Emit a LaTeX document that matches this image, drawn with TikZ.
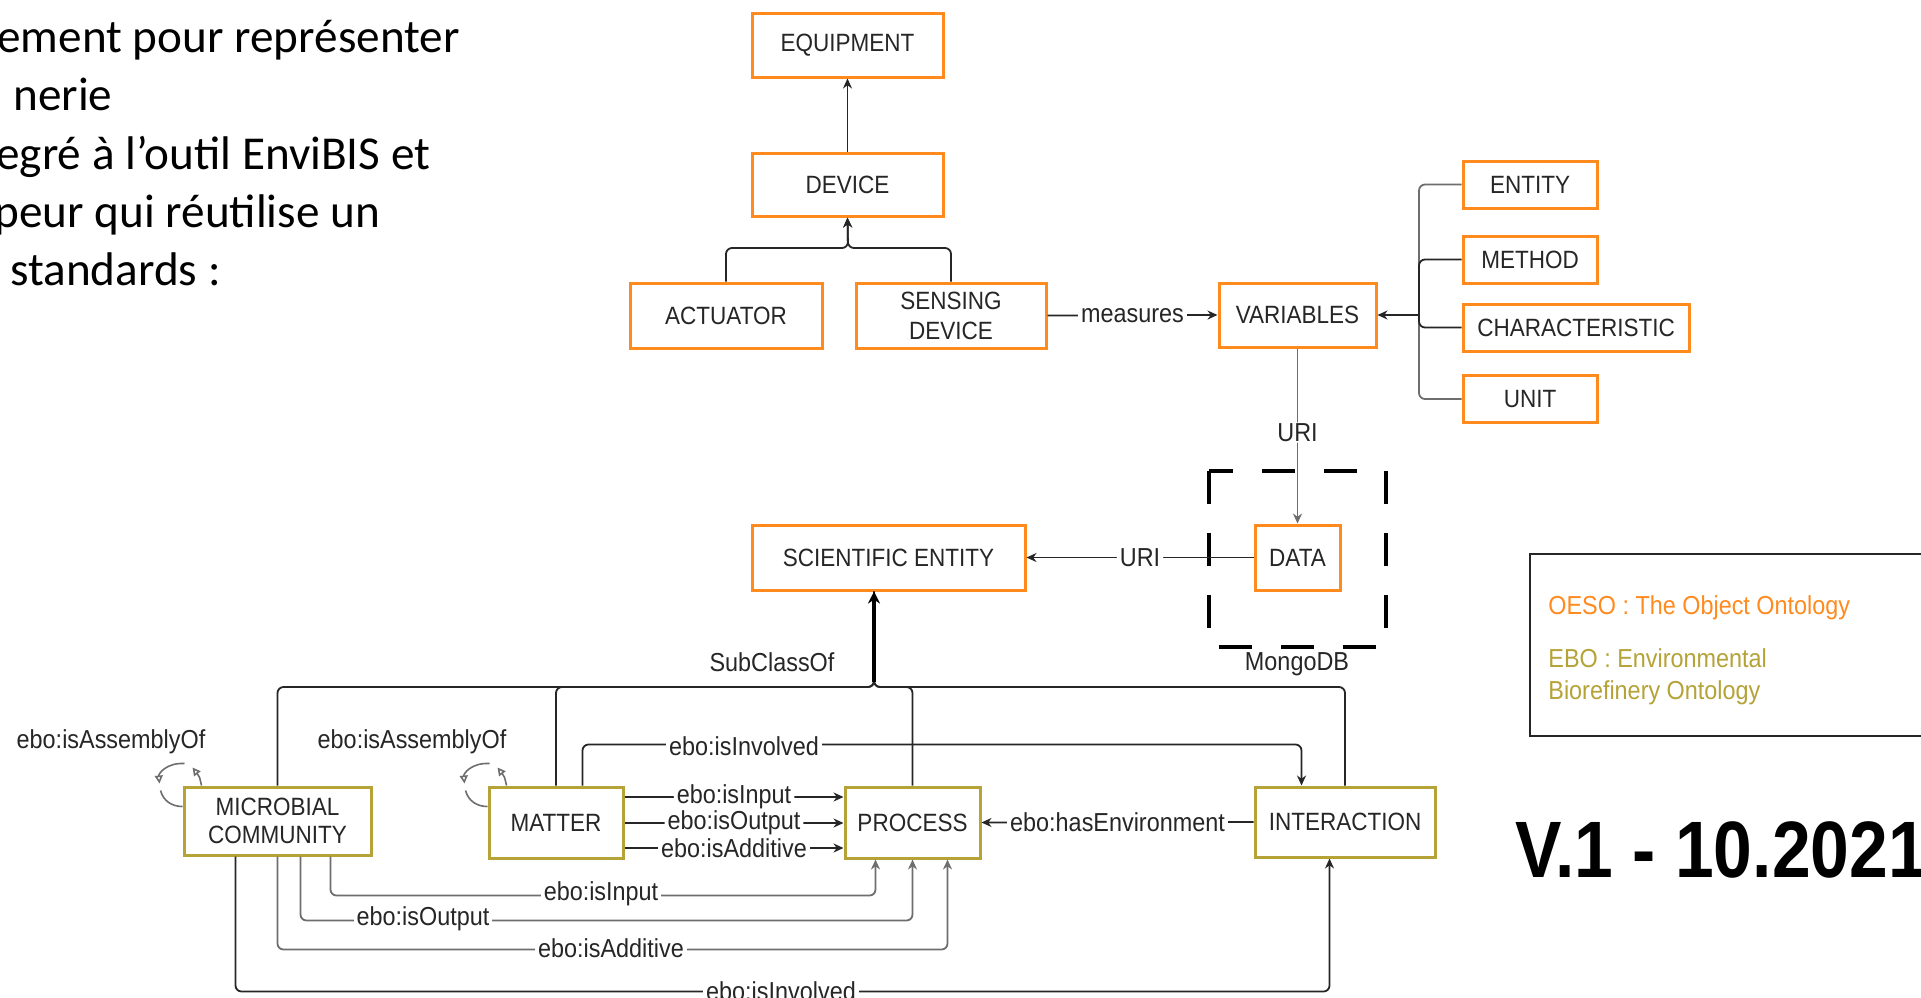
\documentclass[tikz,border=0pt]{standalone}
\usepackage{fontspec}
\setmainfont{Liberation Sans}
\newfontfamily\dgf{Liberation Sans}[FakeStretch=0.9]
\newfontfamily\txtf{Carlito}
\newfontfamily\verf{Liberation Sans}[FakeStretch=0.87]
\usetikzlibrary{arrows.meta,calc}
\definecolor{oeso}{HTML}{FF8A1E}
\definecolor{ebo}{HTML}{B5A337}
\definecolor{ink}{HTML}{262626}
\definecolor{lgray}{HTML}{6E6E6E}
\tikzset{
  obox/.style={draw=oeso, line width=1.5pt, fill=white, inner sep=0pt, align=center,
    font=\dgf\fontsize{12.5pt}{15pt}\selectfont, text=ink},
  ebox/.style={obox, draw=ebo},
  conn/.style={draw=ink, line width=0.9pt, rounded corners=3pt},
  arr/.style={conn, -{Stealth[length=5pt,width=4.5pt]}},
  garr/.style={arr, draw=lgray},
  lab/.style={fill=white, inner xsep=1.5pt, inner ysep=0.5pt,
    font=\dgf\fontsize{13pt}{15pt}\selectfont, text=ink},
  loopline/.style={draw=lgray, line width=0.8pt},
  looparr/.style={loopline, -{Triangle[open,length=4pt,width=4pt]}},
  toptext/.style={anchor=base west, inner sep=0pt, font=\txtf\fontsize{23.6pt}{29pt}\selectfont, text=black},
  legtext/.style={anchor=base west, inner sep=0pt, font=\dgf\fontsize{13pt}{16pt}\selectfont},
}
\begin{document}
\begin{tikzpicture}[x=0.5pt,y=-0.5pt]
\useasboundingbox (0,0) rectangle (1921,997);
\clip (0,0) rectangle (1921,997);
\fill[white] (0,0) rectangle (1921,997);

% top-left text
\node[toptext] (t1) at (-3,52) {ement pour représenter};
\node[toptext] (t2) at (13,110) {nerie};
\node[toptext] (t3) at (-4,169) {egré à l’outil EnviBIS et};
\node[toptext] (t4) at (-6,227) {peur qui réutilise un};
\node[toptext] (t5) at (10,285) {standards :};

% OESO boxes
\node[obox, minimum width=95.5pt, minimum height=32pt] (eq) at (847.5,45) {EQUIPMENT};
\node[obox, minimum width=95.5pt, minimum height=31.5pt] (dev) at (847.5,184.5) {DEVICE};
\node[obox, minimum width=96pt, minimum height=32.5pt] (act) at (726,315.5) {ACTUATOR};
\node[obox, minimum width=95pt, minimum height=32.5pt] (sen) at (951,315.5) {SENSING\\DEVICE};
\node[obox, minimum width=78.5pt, minimum height=32pt] (var) at (1297.5,315) {VARIABLES};
\node[obox, minimum width=67pt, minimum height=23.5pt] (ent) at (1530,184.5) {ENTITY};
\node[obox, minimum width=67pt, minimum height=23.5pt] (met) at (1530,259.5) {METHOD};
\node[obox, minimum width=113pt, minimum height=23.5pt] (cha) at (1576,327.5) {CHARACTERISTIC};
\node[obox, minimum width=67pt, minimum height=23.5pt] (uni) at (1530,399) {UNIT};
\node[obox, minimum width=136.5pt, minimum height=32.5pt] (se) at (888.5,557.5) {SCIENTIFIC ENTITY};
\node[obox, minimum width=42.5pt, minimum height=32.5pt] (dat) at (1297.5,557.5) {DATA};

% EBO boxes
\node[ebox, minimum width=93.5pt, minimum height=34pt, font=\dgf\fontsize{12.5pt}{14pt}\selectfont] (mc) at (277.5,821) {MICROBIAL\\COMMUNITY};
\node[ebox, minimum width=67pt, minimum height=35.5pt] (ma) at (556,822.5) {MATTER};
\node[ebox, minimum width=67.5pt, minimum height=35.5pt] (pr) at (912.5,822.5) {PROCESS};
\node[ebox, minimum width=90pt, minimum height=35pt] (in) at (1345,822) {INTERACTION};

% MongoDB dashed box
\draw[line width=2.2pt, dash pattern=on 16.5pt off 14.5pt] (1209,471) rectangle (1386,647);
\node[lab, fill=none] (mongo) at (1297,664) {MongoDB};

% top connectors
\draw[arr] (dev.north) -- (eq.south);
\coordinate (dbus) at (848,248);
\draw[arr] (act.north) |- (dbus) -- (dev.south);
\draw[arr] (sen.north) |- (dbus) -- (dev.south);
\draw[arr] (sen.east) -- node[lab] {measures} (var.west);
\coordinate (vbus) at (1419,315);
\draw[conn, draw=lgray] (ent.west) -| (vbus);
\draw[conn, draw=lgray] (uni.west) -| (vbus);
\draw[conn] (met.west) -| (vbus);
\draw[conn] (cha.west) -| (vbus);
\draw[arr, line width=1.4pt] (vbus) -- (var.east);
\draw[arr, draw=lgray] (var.south) -- node[lab, pos=0.48] {URI} (dat.north);
\draw[arr] (dat.west) -- node[lab] {URI} (se.east);

% SubClassOf bus
\coordinate (sbus) at (874,687);
\draw[conn] (mc.north) |- (sbus) -- (sbus |- se.south);
\draw[conn] (ma.north) |- (sbus) -- (sbus |- se.south);
\draw[conn] (pr.north) |- (sbus) -- (sbus |- se.south);
\draw[conn] (in.north) |- (sbus) -- (sbus |- se.south);
\draw[line width=2.2pt, draw=black, -{Stealth[length=6pt,width=6pt]}] ($(sbus)+(0,-5)$) -- (sbus |- se.south);
\node[lab, fill=none] (sub) at (772,662) {SubClassOf};

% matter -> process
\draw[arr] ($(ma.east)+(0,-25.5)$) -- node[lab] {ebo:isInput} ($(pr.west)+(0,-25.5)$);
\draw[arr] ($(ma.east)+(0,0.5)$) -- node[lab] {ebo:isOutput} ($(pr.west)+(0,0.5)$);
\draw[arr] ($(ma.east)+(0,25.5)$) -- node[lab] {ebo:isAdditive} ($(pr.west)+(0,25.5)$);

% matter isInvolved
\draw[arr] ($(ma.north west)+(95,0)$) |- ($(in.north west)+(48,-41)$) -- ($(in.north west)+(48,0)$);
\node[lab] (l1) at (744,746) {ebo:isInvolved};

% interaction -> process
\draw[arr] (in.west) -- node[lab] {ebo:hasEnvironment} (pr.east);

% microbial community lower connectors
\draw[garr] ($(mc.south west)+(148,0)$) |- ($(pr.south west)+(32,36)$) -- ($(pr.south west)+(32,0)$);
\draw[garr] ($(mc.south west)+(118,0)$) |- ($(pr.south)+(0,61)$) -- (pr.south);
\draw[garr] (mc.south) |- ($(pr.south west)+(104,90)$) -- ($(pr.south west)+(104,0)$);
\draw[arr] ($(mc.south west)+(53,0)$) |- ($(in.south west)+(76,133)$) -- ($(in.south west)+(76,0)$);
\node[lab] (l2) at (601,894) {ebo:isInput};
\node[lab] (l3) at (423,919) {ebo:isOutput};
\node[lab] (l4) at (611,948) {ebo:isAdditive};
\node[lab] (l5) at (781,991) {ebo:isInvolved};

% self loops
\foreach \n in {mc,ma}{
  \draw[looparr] ($(\n.north west)+(19,0)$) .. controls ($(\n.north west)+(17,-9)$) .. ($(\n.north west)+(10,-18)$);
  \draw[looparr] ($(\n.north west)+(2,-22)$) .. controls ($(\n.north west)+(-16,-23)$) and ($(\n.north west)+(-24,-12)$) .. ($(\n.north west)+(-23,-2)$);
  \draw[loopline] ($(\n.north west)+(-22,5)$) .. controls ($(\n.north west)+(-19,16)$) and ($(\n.north west)+(-10,21)$) .. ($(\n.north west)+(0,21)$);
}
\node[lab, fill=none] (a1) at (111,742) {ebo:isAssemblyOf};
\node[lab, fill=none] (a2) at (412,742) {ebo:isAssemblyOf};

% legend
\draw[line width=1pt, draw=ink] (1530,554) rectangle (1940,736);
\node[legtext, text=oeso] (lg1) at (1548,614) {OESO : The Object Ontology};
\node[legtext, text=ebo] (lg2) at (1548,667) {EBO : Environmental};
\node[legtext, text=ebo] (lg3) at (1548,699) {Biorefinery Ontology};

% version
\node[anchor=base west, inner sep=0pt, font=\verf\bfseries\fontsize{40pt}{40pt}\selectfont] (ver) at (1515,877) {V.1 - 10.2021};
\end{tikzpicture}
\end{document}
